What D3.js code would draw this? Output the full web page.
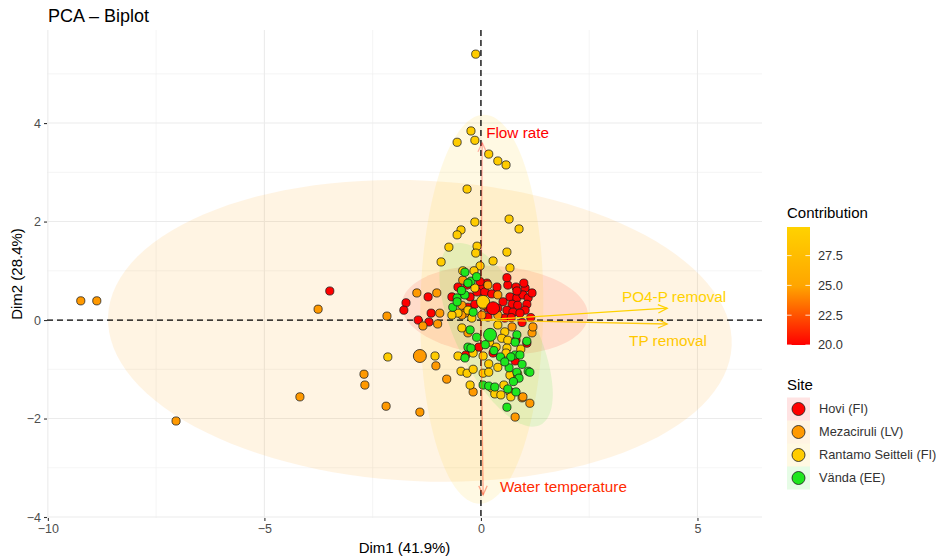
<!DOCTYPE html>
<html>
<head>
<meta charset="utf-8">
<script src="https://cdn.jsdelivr.net/npm/d3@7"></script>
<style>
  body { margin: 0; background: #fff; font-family: "Liberation Sans", Arial, sans-serif; }
</style>
</head>
<body>
<div id="container"><svg></svg></div>
<script>
let width = 936;
let height = 557;

// individuals (Dim1, Dim2) by site
let hovi = [
  [-3.49,0.59],[-1.73,0.35],[-1.78,0.20],[-1.22,0.47],[-1.15,0.14],[-1.45,0.0],[-1.20,-0.04],
  [-0.32,0.71],[-0.53,0.67],[0.0,0.67],[0.37,0.67],[0.62,0.71],[0.81,0.67],[1.02,0.65],
  [-0.67,0.47],[-0.25,0.47],[-0.09,0.57],[0.09,0.57],[0.25,0.53],[0.67,0.47],[0.83,0.45],[0.97,0.51],[1.09,0.45],[1.18,0.55],
  [-0.30,0.26],[-0.14,0.32],[0.51,0.37],[0.72,0.32],[0.85,0.30],[1.06,0.32],[1.02,0.20],
  [0.16,0.24],[0.39,0.24],[0.60,0.20],[0.74,0.16],[0.90,0.14],[0.16,0.06],[0.55,0.04],
  [0.99,0.75],[0.83,0.59],[0.60,0.86],[0.14,0.75],[-0.02,0.78],
  [-0.05,-0.55],[-0.35,-0.71],[0.28,-0.67],[0.79,-0.83],[1.06,-0.47],[0.81,-0.41],
  [1.15,0.05],[0.95,-0.05],[0.70,0.05]
];
let mezaciruli = [
  [-9.24,0.39],[-8.87,0.39],[-3.76,0.22],[-2.17,0.08],[-1.48,0.55],[-1.02,0.55],[-1.04,-0.93],
  [-2.70,-1.10],[-2.68,-1.32],[-4.18,-1.56],[-2.19,-1.75],[-1.41,-1.87],[-7.04,-2.05],[-1.34,-0.12],
  [-1.0,-0.08],[-0.95,0.14],
  [-0.42,0.81],[0.16,0.71],[0.39,0.51],[-0.44,0.30],[-0.37,0.14],[-0.44,0.10],[0.02,0.10],[0.39,0.10],
  [-0.30,-0.26],[0.72,-0.14],[1.18,-0.26],[1.20,-0.14],
  [-0.79,-1.20],[-0.18,-1.46],[1.13,-1.69],[0.79,-1.97],[0.95,-1.58],[0.67,-1.46],[0.97,-1.56]
];
let rantamo = [
  [-0.12,5.40],[-0.23,3.84],[-0.14,3.65],[-0.55,3.61],[0.18,3.37],[0.39,3.23],[0.58,3.15],[-0.32,2.66],
  [-0.14,1.99],[-0.46,1.83],[0.65,2.05],[0.88,1.85],[-0.55,1.73],
  [-0.74,1.48],[-0.09,1.50],[-0.12,1.36],[0.60,1.38],[0.28,1.20],[-0.02,1.10],[-0.42,1.0],[-0.16,1.0],[0.67,1.06],[-0.92,1.18],
  [-0.14,0.65],[-0.53,0.14],[-0.67,0.10],[-0.21,0.04],[-0.44,-0.16],[0.39,-0.10],[0.55,-0.24],[0.48,-0.37],[0.62,-0.41],
  [-1.06,-0.73],[-2.15,-0.75],[-0.53,-0.73],[-0.46,-1.04],[-0.32,-1.08],[-0.18,-1.0],[-0.18,-0.67],[0.05,-0.73],
  [0.05,-1.08],[0.18,-0.89],[0.18,-1.06],[0.39,-0.96],[0.60,-0.57],[0.58,-0.67],[0.67,-1.12],[0.53,-1.32],
  [0.25,-1.38],[0.32,-1.50],[0.46,-1.52],[0.69,-1.56],[0.92,-0.59],[0.85,-1.10],
  [-0.25,-1.32],[0.20,-0.45],[0.05,0.30],[-0.30,0.20],[0.35,-0.55]
];
let vanda = [
  [-0.23,0.79],[-0.55,0.45],[-0.37,0.51],[-0.65,0.26],[-0.18,0.16],[0.83,-0.30],[0.79,-0.45],[1.06,-0.43],
  [-0.37,0.97],[-0.30,0.75],[-0.55,0.37],[-0.25,-0.20],
  [-0.30,-0.55],[-0.37,-0.77],[0.79,-0.71],[0.90,-0.71],[0.65,-0.97],[0.83,-1.06],[1.09,-1.04],[1.13,-1.06],
  [0.05,-1.32],[0.18,-1.34],[0.32,-1.36],[0.88,-1.18],[0.81,-1.46],[0.60,-1.77],[0.69,-0.75],[-0.23,-0.57],
  [0.45,-0.75],[0.55,-0.85],[0.30,-0.62],[0.95,-0.90],[0.75,-1.25],[0.10,-0.50],[-0.10,-0.35],[0.62,-1.40],
  [-0.45,0.60],[-0.10,0.88]
];

let sites = ['Hovi (FI)', 'Mezaciruli (LV)', 'Rantamo Seitteli (FI)', 'Vända (EE)'];
let siteColors = ['#FF0000', '#FF9900', '#FFCC00', '#1EE61E'];
let sitePoints = [hovi, mezaciruli, rantamo, vanda];
// group means
let siteMeans = [[0.28, 0.24], [-1.41, -0.73], [0.05, 0.37], [0.21, -0.30]];
// ellipses: centre, first half-axis, second half-axis (Dim1, Dim2 units)
let ellCenter = [[0.32, 0.20], [-1.41, -0.22], [0.02, 0.22], [0.35, -0.30]];
let ellAxisU  = [[2.15, -0.10], [7.20, -0.30], [0.05, 3.95], [1.02, -1.83]];
let ellAxisV  = [[0.00, 0.90], [0.15, 3.05], [1.42, 0.00], [0.82, 0.36]];

// variables
let varNames = ['Flow rate', 'Water temperature', 'PO4-P removal', 'TP removal'];
let varCoords = [[0.03, 3.60], [0.05, -3.55], [4.30, 0.24], [4.30, -0.08]];
let varContrib = [20.0, 21.3, 29.9, 28.8];
let varLabelPos = [[0.12, 3.80], [0.44, -3.38], [4.46, 0.48], [4.32, -0.42]];
let varLabelAnchor = ['start', 'start', 'middle', 'middle'];

let xTicks = [-10, -5, 0, 5];
let xMinor = [-7.5, -2.5, 2.5];
let yTicks = [-4, -2, 0, 2, 4];
let yMinor = [-3, -1, 1, 3, 5];
let contribTicks = [20.0, 22.5, 25.0, 27.5];

let fontFamily = '"Liberation Sans", Arial, Helvetica, sans-serif';

function draw_main() {
    let padding = {left: 47, right: width - 762, top: 30, bottom: height - 518};
    let svg = d3.select('#container').select('svg')
        .attr('width', width)
        .attr('height', height)
        .style('font-family', fontFamily);

    let x = d3.scaleLinear().domain([-10.02, 6.49]).range([padding.left, width - padding.right]);
    let y = d3.scaleLinear().domain([-4.02, 5.89]).range([height - padding.bottom, padding.top]);

    let contribColor = d3.scaleLinear()
        .domain([20.0, 24.95, 29.9])
        .range(['#FF0000', '#FFA500', '#FFD200'])
        .clamp(true);
    let contribAlpha = d3.scaleLinear().domain([20.0, 29.9]).range([0.3, 1]).clamp(true);

    // title
    svg.append('text')
        .attr('x', 48).attr('y', 22)
        .attr('font-size', '18px')
        .attr('fill', '#000')
        .text('PCA – Biplot');

    // grid
    let grid = svg.append('g');
    grid.selectAll('.xminor').data(xMinor).enter().append('line')
        .attr('x1', d => x(d)).attr('x2', d => x(d))
        .attr('y1', padding.top).attr('y2', height - padding.bottom)
        .attr('stroke', '#EFEFEF').attr('stroke-width', 0.6);
    grid.selectAll('.yminor').data(yMinor).enter().append('line')
        .attr('y1', d => y(d)).attr('y2', d => y(d))
        .attr('x1', padding.left).attr('x2', width - padding.right)
        .attr('stroke', '#EFEFEF').attr('stroke-width', 0.6);
    grid.selectAll('.xmajor').data(xTicks).enter().append('line')
        .attr('x1', d => x(d)).attr('x2', d => x(d))
        .attr('y1', padding.top).attr('y2', height - padding.bottom)
        .attr('stroke', '#EBEBEB').attr('stroke-width', 1.1);
    grid.selectAll('.ymajor').data(yTicks).enter().append('line')
        .attr('y1', d => y(d)).attr('y2', d => y(d))
        .attr('x1', padding.left).attr('x2', width - padding.right)
        .attr('stroke', '#EBEBEB').attr('stroke-width', 1.1);

    // ellipses
    let line = d3.line().x(d => x(d[0])).y(d => y(d[1]));
    let ts = d3.range(0, 361, 3).map(d => d * Math.PI / 180);
    svg.append('g')
        .selectAll('path')
        .data(sites)
        .enter().append('path')
        .attr('d', (d, i) => {
            let c = ellCenter[i], u = ellAxisU[i], v = ellAxisV[i];
            return line(ts.map(t => [c[0] + Math.cos(t) * u[0] + Math.sin(t) * v[0],
                                     c[1] + Math.cos(t) * u[1] + Math.sin(t) * v[1]])) + 'Z';
        })
        .attr('fill', (d, i) => siteColors[i])
        .attr('fill-opacity', 0.11)
        .attr('stroke', 'none');

    // dashed zero lines
    svg.append('line')
        .attr('x1', x(0)).attr('x2', x(0))
        .attr('y1', padding.top).attr('y2', height - padding.bottom)
        .attr('stroke', '#000').attr('stroke-width', 1.3).attr('stroke-dasharray', '6,4');
    svg.append('line')
        .attr('y1', y(0)).attr('y2', y(0))
        .attr('x1', padding.left).attr('x2', width - padding.right)
        .attr('stroke', '#000').attr('stroke-width', 1.3).attr('stroke-dasharray', '6,4');

    // individuals
    sitePoints.forEach((pts, i) => {
        svg.append('g')
            .selectAll('circle')
            .data(pts)
            .enter().append('circle')
            .attr('cx', d => x(d[0]))
            .attr('cy', d => y(d[1]))
            .attr('r', 4.1)
            .attr('fill', siteColors[i])
            .attr('stroke', '#1a1a1a')
            .attr('stroke-width', 0.75);
    });

    // variable arrows
    let arrows = svg.append('g');
    varNames.forEach((name, i) => {
        let col = contribColor(varContrib[i]);
        let x0 = x(0), y0 = y(0);
        let x1 = x(varCoords[i][0]), y1 = y(varCoords[i][1]);
        let ang = Math.atan2(y1 - y0, x1 - x0);
        let len = 10, spread = 25 * Math.PI / 180;
        let g = arrows.append('g')
            .attr('stroke', col)
            .attr('stroke-opacity', contribAlpha(varContrib[i]))
            .attr('stroke-width', 1.3)
            .attr('fill', 'none');
        g.append('line').attr('x1', x0).attr('y1', y0).attr('x2', x1).attr('y2', y1);
        g.append('path')
            .attr('d', `M${x1 - len * Math.cos(ang - spread)},${y1 - len * Math.sin(ang - spread)}
                        L${x1},${y1}
                        L${x1 - len * Math.cos(ang + spread)},${y1 - len * Math.sin(ang + spread)}`);
        arrows.append('text')
            .attr('x', x(varLabelPos[i][0]))
            .attr('y', y(varLabelPos[i][1]))
            .attr('dy', '0.35em')
            .attr('text-anchor', varLabelAnchor[i])
            .attr('font-size', '15.3px')
            .attr('fill', col)
            .text(name);
    });

    // group means
    let meanOrder = [2, 0, 1, 3];
    svg.append('g')
        .selectAll('circle')
        .data(meanOrder)
        .enter().append('circle')
        .attr('cx', i => x(siteMeans[i][0]))
        .attr('cy', i => y(siteMeans[i][1]))
        .attr('r', 6.5)
        .attr('fill', i => siteColors[i])
        .attr('stroke', '#1a1a1a')
        .attr('stroke-width', 0.8);

    // axes
    let fmt = d => String(d).replace('-', '−');
    let axis_x = d3.axisBottom(x).tickValues(xTicks).tickSize(3).tickPadding(3).tickFormat(fmt);
    svg.append('g')
        .attr('transform', `translate(0, ${height - padding.bottom})`)
        .call(axis_x)
        .call(g => g.select('.domain').remove())
        .call(g => g.selectAll('line').attr('stroke', '#333').attr('stroke-width', 1.1))
        .call(g => g.selectAll('text').attr('fill', '#4D4D4D').attr('font-size', '12.5px').attr('font-family', fontFamily));
    let axis_y = d3.axisLeft(y).tickValues(yTicks).tickSize(3).tickPadding(3).tickFormat(fmt);
    svg.append('g')
        .attr('transform', `translate(${padding.left}, 0)`)
        .call(axis_y)
        .call(g => g.select('.domain').remove())
        .call(g => g.selectAll('line').attr('stroke', '#333').attr('stroke-width', 1.1))
        .call(g => g.selectAll('text').attr('fill', '#4D4D4D').attr('font-size', '12.5px').attr('font-family', fontFamily));

    svg.append('text')
        .attr('x', (padding.left + width - padding.right) / 2)
        .attr('y', 553)
        .attr('text-anchor', 'middle')
        .attr('font-size', '15px')
        .text('Dim1 (41.9%)');
    svg.append('text')
        .attr('transform', `translate(22, ${(padding.top + height - padding.bottom) / 2}) rotate(-90)`)
        .attr('text-anchor', 'middle')
        .attr('font-size', '15px')
        .text('Dim2 (28.4%)');

    // legend: contribution
    let lg = svg.append('g');
    lg.append('text').attr('x', 787).attr('y', 218).attr('font-size', '15px').text('Contribution');
    let barTop = 227, barBottom = 345;
    let cy = d3.scaleLinear().domain([20.0, 29.9]).range([barBottom, barTop]);
    let defs = svg.append('defs');
    let grad = defs.append('linearGradient').attr('id', 'cgrad')
        .attr('x1', 0).attr('x2', 0).attr('y1', 1).attr('y2', 0);
    d3.range(0, 1.0001, 0.1).forEach(t => {
        grad.append('stop').attr('offset', t).attr('stop-color', contribColor(20.0 + t * 9.9));
    });
    lg.append('rect').attr('x', 787).attr('y', barTop).attr('width', 23).attr('height', barBottom - barTop)
        .attr('fill', 'url(#cgrad)');
    contribTicks.forEach(t => {
        lg.append('line').attr('x1', 787).attr('x2', 791.6).attr('y1', cy(t)).attr('y2', cy(t))
            .attr('stroke', '#fff').attr('stroke-width', 0.8);
        lg.append('line').attr('x1', 805.4).attr('x2', 810).attr('y1', cy(t)).attr('y2', cy(t))
            .attr('stroke', '#fff').attr('stroke-width', 0.8);
        lg.append('text').attr('x', 818).attr('y', cy(t)).attr('dy', '0.35em')
            .attr('font-size', '12.8px').attr('fill', '#333').text(d3.format('.1f')(t));
    });

    // legend: site
    lg.append('text').attr('x', 787).attr('y', 390).attr('font-size', '15px').text('Site');
    sites.forEach((s, i) => {
        let yc = 409 + i * 23;
        lg.append('rect').attr('x', 787).attr('y', yc - 11.5).attr('width', 23).attr('height', 23)
            .attr('fill', siteColors[i]).attr('fill-opacity', 0.11);
        lg.append('circle').attr('cx', 798.5).attr('cy', yc).attr('r', 6.5)
            .attr('fill', siteColors[i]).attr('stroke', '#1a1a1a').attr('stroke-width', 0.8);
        lg.append('text').attr('x', 819).attr('y', yc).attr('dy', '0.35em')
            .attr('font-size', '12.8px').attr('fill', '#333').text(s);
    });
}

draw_main();
</script>
</body>
</html>
